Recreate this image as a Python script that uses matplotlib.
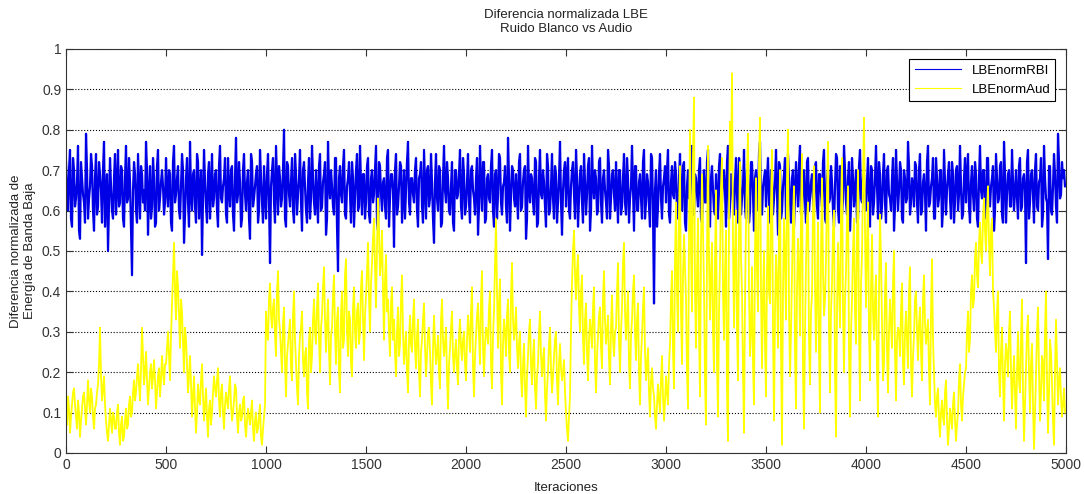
import numpy as np
import matplotlib
matplotlib.use('Agg')
import matplotlib.pyplot as plt

plt.rcParams['font.family'] = ['Liberation Sans Narrow', 'Liberation Sans', 'DejaVu Sans']

# muestras leidas cada 10 iteraciones (a) y desplazadas 5 (b), en centesimas
step = 10

lbe_rbi_a = [
    72,60,75,56,70,63,76,53,68,62,79,58,66,71,55,74,61,69,57,77,64,50,73,60,68,
    59,75,62,70,56,76,63,67,44,72,60,74,58,69,65,77,54,71,61,68,57,75,63,70,59,
    73,61,69,55,76,64,71,58,74,52,68,62,77,60,70,57,72,65,49,75,61,69,58,74,63,
    70,56,76,62,68,59,73,61,71,55,78,64,67,58,74,60,70,53,72,63,69,57,75,62,71,
    58,74,47,70,62,76,59,68,63,80,56,71,61,73,57,69,64,75,55,72,60,67,58,76,62,
    70,57,74,61,69,54,77,63,66,59,73,45,71,62,75,58,68,64,72,56,70,60,76,59,69,
    62,73,57,70,64,76,55,71,60,68,58,75,63,69,51,74,61,72,57,70,65,77,59,68,62,
    73,56,69,61,75,58,71,63,67,52,74,60,70,57,76,62,68,59,72,55,70,64,75,58,69,
    61,74,57,71,63,68,54,76,60,72,58,69,62,75,56,70,64,73,59,67,61,78,55,71,63,
    69,58,74,61,70,53,76,62,68,59,72,57,75,63,67,56,71,60,74,58,69,62,77,54,70,
    61,73,58,70,64,75,56,69,62,74,59,71,55,76,63,68,60,73,57,70,62,75,58,69,64,
    72,57,70,61,74,59,68,63,76,55,71,60,69,58,75,62,67,56,73,37,70,61,74,58,68,
    62,75,57,71,63,69,58,74,60,72,55,70,64,76,59,68,61,73,57,70,62,75,56,71,60,
    69,58,74,62,70,56,76,61,68,59,73,57,71,63,75,58,69,60,72,55,70,62,77,59,68,
    61,73,57,70,63,75,54,71,60,69,58,74,62,68,56,72,61,76,59,70,57,73,63,69,60,
    72,58,69,61,75,57,70,63,67,56,74,60,71,59,76,62,68,55,73,61,70,58,75,62,69,
    60,73,56,70,62,76,58,69,61,74,57,71,63,68,55,75,60,72,58,70,62,77,59,68,61,
    71,57,74,60,69,55,76,62,68,58,73,61,70,56,75,59,69,63,72,57,70,60,76,58,68,
    62,74,57,71,60,69,56,76,63,70,58,73,61,68,55,74,62,71,59,77,57,69,61,75,60,
    70,58,73,61,69,47,75,62,70,57,74,60,68,56,76,63,48,71,59,74,61,79,63,72,70,
]

lbe_rbi_b = [
    64,70,58,73,61,67,55,72,64,57,70,63,74,60,68,59,72,65,70,56,69,61,66,58,74,
    66,61,71,58,68,62,73,55,65,69,57,66,71,62,60,70,64,58,73,56,71,60,67,66,62,
    65,70,57,72,62,68,60,66,70,59,73,56,64,69,61,74,58,70,63,67,57,72,65,61,69,
    60,71,63,66,73,57,65,70,59,68,62,72,56,70,64,67,58,74,61,66,71,60,68,57,64,
    69,62,66,73,57,67,71,61,70,58,72,64,67,60,74,59,68,62,70,66,57,73,63,68,59,
    63,71,60,67,72,58,66,70,61,73,56,68,64,71,59,66,72,57,68,63,74,61,66,69,58,
    71,59,68,62,70,57,72,64,67,61,73,56,69,65,70,59,66,71,63,58,72,62,68,64,70,
    60,68,72,57,66,70,61,74,58,67,63,71,56,68,65,72,60,66,57,70,63,69,61,73,59,
    67,62,70,65,59,73,61,66,72,57,68,63,71,60,69,58,74,62,66,71,57,68,64,70,61,
    63,72,60,67,71,58,65,69,62,73,56,68,64,70,61,74,59,66,63,71,57,68,62,65,72,
    69,60,66,72,58,68,63,71,57,67,64,73,60,66,70,59,72,62,68,65,58,71,63,70,60,
    64,70,59,68,62,73,57,66,65,71,60,67,63,72,58,69,61,74,60,65,56,69,63,66,71,
    70,59,67,64,72,60,68,62,71,57,66,63,73,59,69,64,70,58,67,62,72,60,68,65,59,
    63,71,60,68,65,72,58,69,62,67,64,73,59,66,61,70,57,72,64,68,60,74,62,66,70,
    68,62,70,59,67,64,72,58,66,73,61,68,57,70,64,66,71,59,68,62,72,60,67,63,71,
    61,69,64,72,58,68,62,71,60,66,73,57,67,63,70,59,72,61,68,65,57,71,63,68,60,
    67,63,71,59,68,66,72,58,69,62,70,64,60,73,61,67,65,70,57,68,63,71,62,66,72,
    62,70,59,67,64,72,61,66,73,58,68,63,70,60,67,65,72,58,69,62,71,64,66,59,73,
    69,61,67,64,72,58,68,65,70,59,73,62,66,71,60,68,63,72,57,69,64,70,61,67,65,
    63,71,60,68,65,72,58,69,64,70,61,67,73,59,68,62,71,60,66,69,57,72,64,68,66,
]

lbe_aud_a = [
    10,14,5,12,16,9,13,4,11,15,7,18,10,14,6,12,17,31,13,19,8,3,11,5,9,
    6,12,2,9,4,11,7,14,10,18,15,22,13,31,17,25,12,20,16,23,11,19,14,24,17,
    22,30,18,37,52,33,41,26,35,20,28,15,24,9,19,5,17,12,22,8,16,4,13,10,19,
    14,21,9,17,6,15,11,19,8,13,16,5,12,9,14,4,11,7,13,3,10,6,12,2,9,
    35,28,42,31,38,24,45,30,20,36,14,27,33,18,40,22,12,29,35,19,26,11,31,24,38,
    27,42,20,34,46,25,38,17,31,44,22,36,15,40,28,48,24,33,19,41,26,37,30,45,23,
    39,52,30,47,58,36,63,44,55,28,49,38,24,41,33,19,36,27,44,22,30,15,34,25,38,
    21,33,14,28,37,19,30,25,12,34,22,29,16,38,24,31,11,26,35,20,28,17,33,23,30,
    18,34,25,41,14,29,37,22,45,19,31,27,40,16,35,58,26,43,12,33,24,38,20,47,28,
    36,21,30,14,27,9,24,33,17,28,11,22,35,19,26,8,20,31,15,24,30,12,27,18,23,
    10,3,14,42,55,38,49,30,44,22,37,18,33,26,41,15,29,36,21,45,27,34,17,39,24,
    31,47,20,36,52,28,40,16,33,44,23,37,12,29,41,18,26,9,21,14,6,17,10,24,8,
    19,12,27,45,16,62,30,71,22,54,38,11,80,35,88,26,58,14,69,41,7,76,33,52,20,
    65,9,48,73,28,55,3,82,94,31,60,18,72,40,5,57,79,24,46,12,68,35,83,21,50,
    14,61,37,75,8,49,26,70,2,58,33,80,19,44,66,11,53,29,74,6,47,62,17,39,71,
    25,57,10,68,34,48,77,15,42,60,4,52,31,73,20,45,66,9,38,58,27,70,13,49,83,
    36,62,18,54,28,44,9,59,32,22,47,15,38,26,50,13,31,24,42,17,35,21,46,14,29,
    40,23,36,18,44,27,33,12,48,20,9,16,4,13,7,18,2,11,6,15,3,10,22,8,17,
    21,35,28,44,38,52,41,57,47,63,50,66,44,58,36,25,40,14,31,8,27,19,35,11,24,
    6,30,15,38,3,22,34,10,27,1,19,36,8,24,13,40,5,28,17,2,33,12,21,9,16,
]

lbe_aud_b = [
    7,11,9,15,12,6,10,8,14,11,12,13,16,9,11,15,22,19,16,12,5,7,8,10,6,
    10,5,7,3,8,6,12,9,15,13,19,17,21,24,20,18,16,22,19,18,15,21,18,20,22,
    26,24,29,44,40,45,34,38,27,31,22,19,17,14,11,10,13,18,14,12,9,11,7,15,16,
    18,13,15,10,12,13,16,12,10,17,9,10,8,13,7,8,9,10,6,8,5,9,4,6,12,
    30,38,34,36,29,40,33,25,32,22,24,30,21,34,28,16,24,31,23,24,15,28,20,33,30,
    36,28,31,41,33,32,25,29,39,30,33,20,34,26,44,30,35,22,36,30,35,27,41,33,34,
    45,38,42,53,46,51,55,48,40,43,35,30,37,28,25,30,24,38,30,26,20,28,27,33,26,
    29,20,25,33,26,24,31,17,26,27,25,20,33,28,27,19,22,31,24,25,21,29,26,28,22,
    28,30,35,21,24,34,29,38,26,27,30,36,22,29,47,40,37,20,27,30,34,25,39,33,31,
    26,27,19,22,16,19,30,22,24,16,19,30,24,23,14,16,27,21,19,28,18,22,21,20,15,
    6,9,31,50,44,45,36,40,28,33,25,28,30,36,22,24,34,26,38,33,30,23,31,28,30,
    40,28,30,47,35,34,22,29,40,30,33,20,24,36,25,22,15,18,16,9,12,13,18,14,13,
    15,22,38,25,48,40,60,35,44,46,20,55,50,74,40,45,30,52,55,18,50,48,44,30,48,
    22,35,66,40,45,15,60,70,52,50,30,55,48,20,38,70,40,30,22,50,45,72,40,38,27,
    45,40,62,30,35,42,55,25,40,48,68,36,30,58,25,40,45,60,20,30,58,28,35,60,42,
    40,25,50,45,38,65,30,35,55,20,35,42,60,35,38,58,25,30,50,35,55,30,42,68,55,
    52,30,40,35,38,20,40,48,18,40,25,30,32,42,25,28,30,35,22,30,28,40,22,24,38,
    30,32,25,38,32,30,20,35,28,12,14,8,10,9,15,8,6,9,12,8,7,18,12,14,20,
    30,25,40,36,48,44,52,50,58,55,60,52,55,40,30,35,20,25,18,22,24,30,20,18,15,
    20,18,28,15,12,30,20,22,12,10,30,20,15,22,30,18,15,25,8,20,22,18,14,12,10,
]


def merge(a, b):
    # intercala las dos lecturas (a en 0,10,20.. y b en 5,15,25..)
    out = np.empty(len(a) + len(b))
    out[0::2] = a
    out[1::2] = b
    return out / 100.0


n = len(lbe_rbi_a)
it = np.empty(2 * n)
it[0::2] = np.arange(n) * step
it[1::2] = np.arange(n) * step + step // 2

rbi = merge(lbe_rbi_a, lbe_rbi_b)
aud = merge(lbe_aud_a, lbe_aud_b)

fig = plt.figure(figsize=(10.84, 4.94), dpi=100)
ax = fig.add_axes([0.0609, 0.083, 0.9225, 0.818])

ax.plot(it, rbi, color='#0000e6', lw=1.6, label='LBEnormRBI')
ax.plot(it, aud, color='#ffff00', lw=1.3, label='LBEnormAud')

ax.set_xlim(0, 5000)
ax.set_ylim(0, 1)
ax.set_xticks(np.arange(0, 5001, 500))
ax.set_yticks(np.arange(0, 1.01, 0.1))
ax.set_yticklabels(['0', '0.1', '0.2', '0.3', '0.4', '0.5', '0.6', '0.7', '0.8', '0.9', '1'])
ax.yaxis.grid(True, linestyle=':', color='black', lw=0.8)
ax.tick_params(direction='in', top=True, right=True, labelsize=10, length=5, colors='#333333')
for s in ax.spines.values():
    s.set_color('#333333')

ax.set_title('Diferencia normalizada LBE\nRuido Blanco vs Audio', fontsize=9.5, color='#222222', pad=12)
ax.set_xlabel('Iteraciones', fontsize=9.5, labelpad=7, color='#222222')
ax.set_ylabel('Diferencia normalizada de\nEnergía de Banda Baja', fontsize=9.5, color='#222222', labelpad=4)

leg = ax.legend(loc='upper right', fontsize=9.5, fancybox=False, framealpha=1,
                edgecolor='black', handlelength=3.5, borderaxespad=0.8)
leg.get_frame().set_linewidth(0.8)
for h in leg.get_lines():
    h.set_linewidth(0.8)

fig.savefig('out.png', dpi=100)
